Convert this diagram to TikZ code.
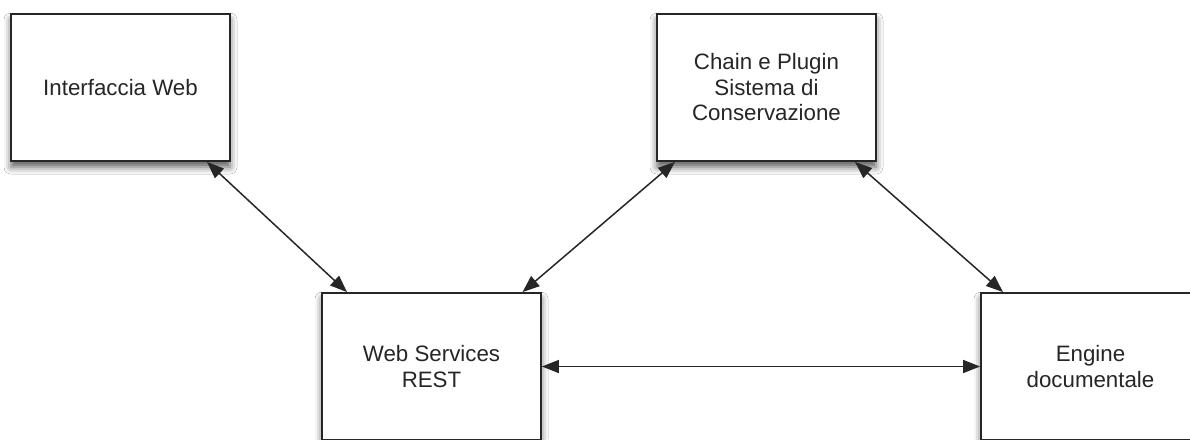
\documentclass[tikz,border=0pt]{standalone}
\usepackage{fontspec}
\setmainfont{Liberation Sans}
\usetikzlibrary{arrows.meta,shadows.blur}
\begin{document}
\begin{tikzpicture}[x=1pt,y=-1pt,
  box/.style={draw=black!85, line width=1.8pt, fill=white,
    minimum width=219pt, minimum height=147pt, inner sep=0pt,
    align=center, text=black!85,
    font=\fontsize{22.3pt}{25.5pt}\selectfont,
    blur shadow={shadow xshift=0pt, shadow yshift=-6pt, shadow blur radius=7pt, shadow opacity=65}},
  link/.style={line width=1.5pt, draw=black!85,
    {Triangle[length=17pt,width=13pt]}-{Triangle[length=17pt,width=13pt]}}]
\clip (0,0) rectangle (1190,439);
\fill[white] (0,0) rectangle (1190,439);
\node[box] (iw) at (120.5,87.5) {Interfaccia Web};
\node[box] (ch) at (766.5,87.5) {Chain e Plugin\\Sistema di\\Conservazione};
\node[box] (ws) at (431.5,366.5) {Web Services\\REST};
\node[box] (en) at (1090.5,366.5) {Engine\\documentale};
\draw[link] ([xshift=86.5pt]iw.south) -- ([xshift=-84.5pt]ws.north);
\draw[link] ([xshift=-91.5pt]ch.south) -- ([xshift=91pt]ws.north);
\draw[link] ([xshift=88.5pt]ch.south) -- ([xshift=-87.5pt]en.north);
\draw[link] (ws.east) -- (en.west);
\end{tikzpicture}
\end{document}
